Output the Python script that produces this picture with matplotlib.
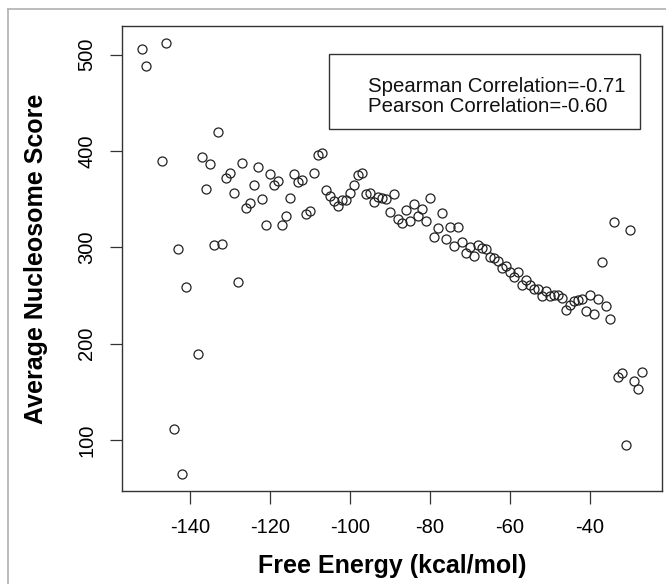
import matplotlib
matplotlib.use("Agg")
import matplotlib.pyplot as plt
from matplotlib.patches import Rectangle
from matplotlib.lines import Line2D

plt.rcParams['font.family'] = ['Liberation Sans', 'DejaVu Sans']
plt.rcParams['axes.unicode_minus'] = False

# free energy (kcal/mol) and average nucleosome score
energy = [-152, -151, -147, -146, -144, -143, -142, -141, -138, -137,
          -136, -135, -134, -133, -132, -131, -130, -129, -128, -127,
          -126, -125, -124, -123, -122, -121, -120, -119, -118, -117,
          -116, -115, -114, -113, -112, -111, -110, -109, -108, -107,
          -106, -105, -104, -103, -102, -101, -100, -99, -98, -97,
          -96, -95, -94, -93, -92, -91, -90, -89, -88, -87,
          -86, -85, -84, -83, -82, -81, -80, -79, -78, -77,
          -76, -75, -74, -73, -72, -71, -70, -69, -68, -67,
          -66, -65, -64, -63, -62, -61, -60, -59, -58, -57,
          -56, -55, -54, -53, -52, -51, -50, -49, -48, -47,
          -46, -45, -44, -43, -42, -41, -40, -39, -38, -37,
          -36, -35, -34, -33, -32, -31, -30, -29, -28, -27]
score = [506, 488, 390, 512, 112, 298, 65, 259, 189, 394,
         361, 387, 303, 420, 304, 372, 377, 357, 264, 388,
         341, 346, 365, 384, 350, 323, 376, 365, 369, 323,
         333, 351, 376, 368, 370, 335, 338, 377, 396, 398,
         360, 353, 348, 343, 349, 349, 357, 365, 375, 377,
         355, 356, 347, 352, 351, 350, 337, 355, 329, 325,
         339, 327, 345, 333, 340, 327, 351, 311, 320, 336,
         309, 321, 301, 321, 306, 294, 300, 291, 303, 299,
         298, 290, 289, 286, 279, 281, 275, 269, 275, 261,
         266, 261, 257, 257, 250, 255, 250, 251, 251, 248,
         235, 240, 244, 245, 246, 234, 251, 231, 246, 285,
         239, 226, 326, 165, 170, 95, 318, 161, 153, 171]

xticks = [-140, -120, -100, -80, -60, -40]
yticks = [100, 200, 300, 400, 500]
legend_lines = ["Spearman Correlation=-0.71", "Pearson Correlation=-0.60"]

fig = plt.figure(figsize=(6.66, 5.84), dpi=100)
ax = fig.add_axes([0.1832, 0.1592, 0.8108, 0.7963])

ax.plot(energy, score, linestyle='none', marker='o', markersize=6.5,
        markerfacecolor='none', markeredgecolor='#222222', markeredgewidth=0.9)

# R style 4% padding
xr = max(energy) - min(energy)
yr = max(score) - min(score)
ax.set_xlim(min(energy) - 0.04*xr, max(energy) + 0.04*xr)
ax.set_ylim(min(score) - 0.04*yr, max(score) + 0.04*yr)

ax.set_xticks(xticks)
ax.set_yticks(yticks)
ax.tick_params(axis='both', direction='out', length=9, width=0.9,
               labelsize=14.5, color='#333333')
ax.tick_params(axis='x', pad=10.5)
ax.tick_params(axis='y', pad=9.5)
for lab in ax.get_yticklabels():
    lab.set_rotation(90)
    lab.set_va('center')

for s in ax.spines.values():
    s.set_linewidth(1.0)
    s.set_color('#333333')

ax.set_xlabel('Free Energy (kcal/mol)', fontsize=18, fontweight='bold', labelpad=12)
ax.set_ylabel('Average Nucleosome Score', fontsize=18, fontweight='bold', labelpad=21)

# legend box with correlations
ax.add_patch(Rectangle((0.3839, 0.7778), 0.5754, 0.162, transform=ax.transAxes,
                       fill=False, edgecolor='#333333', linewidth=1.0))
ax.text(0.455, 0.8695, legend_lines[0], transform=ax.transAxes,
        fontsize=14.7, va='center', ha='left', color='#111111')
ax.text(0.455, 0.8265, legend_lines[1], transform=ax.transAxes,
        fontsize=14.7, va='center', ha='left', color='#111111')

# grey outer frame (left and top)
fig.add_artist(Line2D([0.0125, 0.0125], [0.0, 0.9846], transform=fig.transFigure,
                      color='#b0b0b0', linewidth=1.2))
fig.add_artist(Line2D([0.0125, 1.0], [0.9846, 0.9846], transform=fig.transFigure,
                      color='#b0b0b0', linewidth=1.2))

fig.savefig('out.png', dpi=100)
